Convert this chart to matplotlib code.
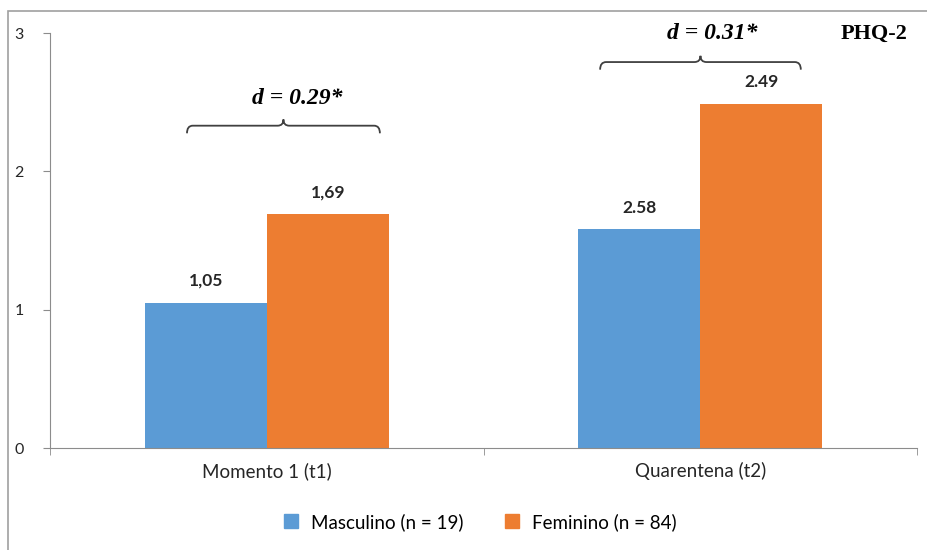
import matplotlib.pyplot as plt
import numpy as np
from matplotlib.path import Path
from matplotlib.patches import PathPatch, Rectangle
from matplotlib.lines import Line2D

# data
categories = ["Momento 1 (t1)", "Quarentena (t2)"]
masculino = [1.05, 1.58]
feminino = [1.69, 2.49]
masc_labels = ["1,05", "2.58"]
fem_labels = ["1,69", "2.49"]
effect_labels = ["d = 0.29*", "d = 0.31*"]

blue = "#5B9BD5"
orange = "#ED7D31"
gray = "#8C8C8C"
sans = ["Lato", "DejaVu Sans"]
serif = ["Liberation Serif", "DejaVu Serif"]

fig = plt.figure(figsize=(9.27, 5.5), dpi=100)
ax = fig.add_axes([50 / 927, 1 - 448 / 550, 867 / 927, 415 / 550])

# chart frame (cut off at right/bottom like the screenshot)
fig.patches.append(Rectangle((8 / 927, -0.1), 1.2, 1 - 11 / 550 + 0.1,
                             transform=fig.transFigure, fill=False,
                             edgecolor="#A0A0A0", lw=1.2))

x = np.arange(len(categories))
w = 0.282
b1 = ax.bar(x - w / 2, masculino, w, color=blue, label="Masculino (n = 19)")
b2 = ax.bar(x + w / 2, feminino, w, color=orange, label="Feminino (n = 84)")

for rects, labs in [(b1, masc_labels), (b2, fem_labels)]:
    for r, lab in zip(rects, labs):
        ax.annotate(lab, (r.get_x() + r.get_width() / 2, r.get_height()),
                    xytext=(0, 10), textcoords="offset points",
                    ha="center", va="bottom", fontsize=12.5, fontweight="bold",
                    family=sans, color="#262626")


def brace(x0, x1, y, h=0.055, tip=0.045):
    xm = (x0 + x1) / 2
    r = (x1 - x0) * 0.03
    verts = [
        (x0, y - h), (x0, y), (x0 + r, y),
        (xm - r, y), (xm, y), (xm, y + tip),
        (xm, y), (xm + r, y),
        (x1 - r, y), (x1, y), (x1, y - h),
    ]
    codes = [Path.MOVETO, Path.CURVE3, Path.CURVE3,
             Path.LINETO, Path.CURVE3, Path.CURVE3,
             Path.CURVE3, Path.CURVE3,
             Path.LINETO, Path.CURVE3, Path.CURVE3]
    ax.add_patch(PathPatch(Path(verts, codes), fill=False, lw=1.3,
                           edgecolor="#404040", clip_on=False))


brace(-0.184, 0.261, 2.33)
brace(0.769, 1.232, 2.79)

ax.text(0.07, 2.53, effect_labels[0], ha="center", va="center", fontsize=17,
        fontweight="bold", fontstyle="italic", family=serif)
ax.text(1.027, 3.0, effect_labels[1], ha="center", va="center", fontsize=17,
        fontweight="bold", fontstyle="italic", family=serif)
ax.text(1.40, 2.99, "PHQ-2", ha="center", va="center", fontsize=16,
        fontweight="bold", family=serif)

ax.set_xlim(-0.5, 1.5)
ax.set_ylim(0, 3)
ax.set_yticks([0, 1, 2, 3])
ax.set_xticks(x)
ax.set_xticklabels(categories, fontsize=13.5, family=sans, color="#262626")
ax.set_xticks([-0.5, 0.5, 1.5], minor=True)
ax.tick_params(axis="x", which="major", length=0, pad=10)
ax.tick_params(axis="x", which="minor", length=5, color=gray)
ax.tick_params(axis="y", length=5, color=gray, labelsize=11.5, pad=14)
for t in ax.get_yticklabels():
    t.set_family(sans)
    t.set_color("#262626")
for s in ["top", "right"]:
    ax.spines[s].set_visible(False)
for s in ["left", "bottom"]:
    ax.spines[s].set_color(gray)

handles = [Line2D([], [], ls="none", marker="s", markersize=10, color=c)
           for c in (blue, orange)]
fig.legend(handles, [b1.get_label(), b2.get_label()], loc="center",
           bbox_to_anchor=(0.512, 0.051), ncol=2, frameon=False,
           handletextpad=0.05, columnspacing=1.6,
           prop={"family": sans, "size": 13.5})

fig.savefig("out.png", dpi=100)
